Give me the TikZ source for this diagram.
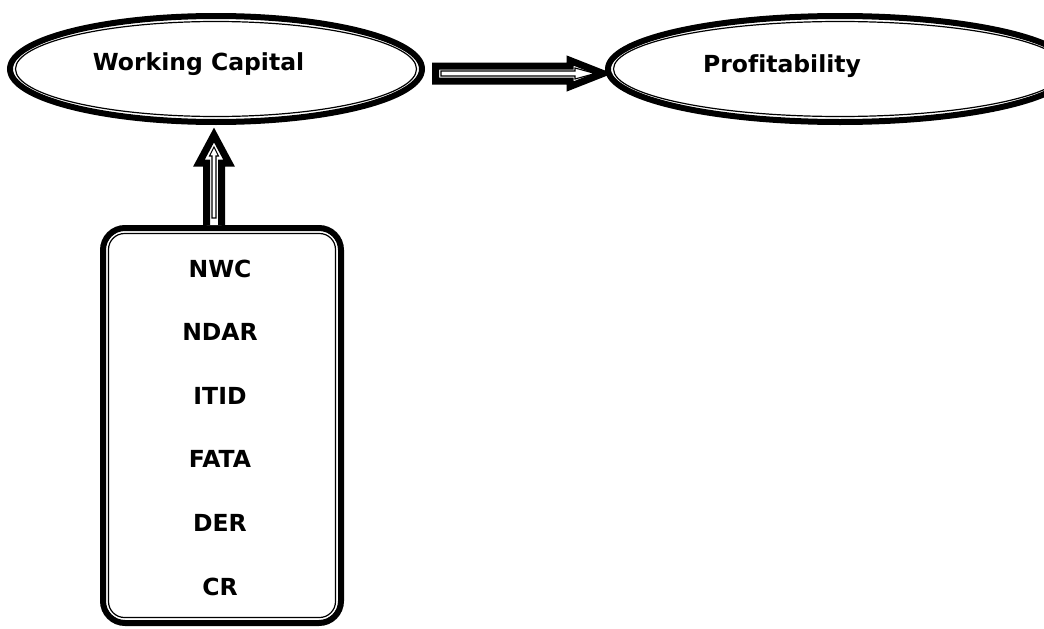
\documentclass[tikz,border=0pt]{standalone}
\usepackage{fontspec}
\setmainfont{DejaVu Sans}[Ligatures=NoCommon]
\usetikzlibrary{shapes.geometric,calc}
\tikzset{
  thickline/.style={draw=black, line width=6pt},
  thinline/.style={draw=black, line width=1.2pt},
  ovalnode/.style={ellipse, thickline, fill=white, inner sep=0pt, minimum height=106pt},
  boxnode/.style={rectangle, rounded corners=22pt, thickline, fill=white, inner sep=0pt, minimum width=238pt, minimum height=395pt},
  txt/.style={font=\fontsize{23.5}{27}\selectfont\bfseries, inner sep=0pt, anchor=base},
  arrowouter/.style={draw=black, line width=7pt, fill=white, miter limit=20},
  arrowinner/.style={draw=black, line width=1.1pt, miter limit=20},
}
\begin{document}
\begin{tikzpicture}[x=1pt, y=-1pt]
\useasboundingbox (0,0) rectangle (1044,629);
\fill[white] (0,0) rectangle (1044,629);
\clip (0,0) rectangle (1044,629);

% ellipses
\node[ovalnode, minimum width=412pt] (wc) at (216,69) {};
\draw[thinline] (wc.center) ellipse [x radius=200.5pt, y radius=47.5pt];
\node[ovalnode, minimum width=464pt] (prof) at (840,69) {};
\draw[thinline] (prof.center) ellipse [x radius=226.5pt, y radius=47.5pt];

% box
\node[boxnode] (box) at (222,425.5) {};
\draw[thinline, rounded corners=16pt] ($(box.north west)+(8.5,8.5)$) rectangle ($(box.south east)+(-8.5,-8.5)$);

% horizontal block arrow from wc to prof
\coordinate (hs) at ($(wc.east)+(7,4.5)$);
\coordinate (ht) at ($(prof.west)+(5,4.5)$);
\draw[arrowouter] ($(hs)+(3.5,-7.5)$) -- ($(ht)+(-40,-7.5)$) -- ($(ht)+(-40,-13)$) -- ($(ht)+(-7,0)$)
  -- ($(ht)+(-40,13)$) -- ($(ht)+(-40,7.5)$) -- ($(hs)+(3.5,7.5)$) -- cycle;
\draw[arrowinner] ($(hs)+(9,-2.5)$) -- ($(ht)+(-35,-2.5)$) -- ($(ht)+(-35,-5.5)$) -- ($(ht)+(-15,0)$)
  -- ($(ht)+(-35,5.5)$) -- ($(ht)+(-35,2.5)$) -- ($(hs)+(9,2.5)$) -- cycle;

% vertical block arrow from box to wc
\coordinate (vs) at ($(box.north)+(-8,0)$);
\coordinate (vt) at ($(wc.south)+(-2,0)$);
\draw[arrowouter] ($(vs)+(-7.5,0)$) -- ($(vt)+(-7.5,38)$) -- ($(vt)+(-15,38)$) -- ($(vt)+(0,10)$)
  -- ($(vt)+(15,38)$) -- ($(vt)+(7.5,38)$) -- ($(vs)+(7.5,0)$);
\draw[arrowinner] ($(vs)+(-2,-7)$) -- ($(vt)+(-2,31)$) -- ($(vt)+(-4.5,31)$) -- ($(vt)+(0,22)$)
  -- ($(vt)+(4.5,31)$) -- ($(vt)+(2,31)$) -- ($(vs)+(2,-7)$) -- cycle;

% texts
\node[txt] (wctext) at (198.5,70) {Working Capital};
\node[txt] (proftext) at (782,72) {Profitability};
\node[txt] (t1) at (220,277) {NWC};
\node[txt] (t2) at (220,340.6) {NDAR};
\node[txt] (t3) at (220,404.2) {ITID};
\node[txt] (t4) at (220,467.8) {FATA};
\node[txt] (t5) at (220,531.4) {DER};
\node[txt] (t6) at (220,595) {CR};
\end{tikzpicture}
\end{document}
